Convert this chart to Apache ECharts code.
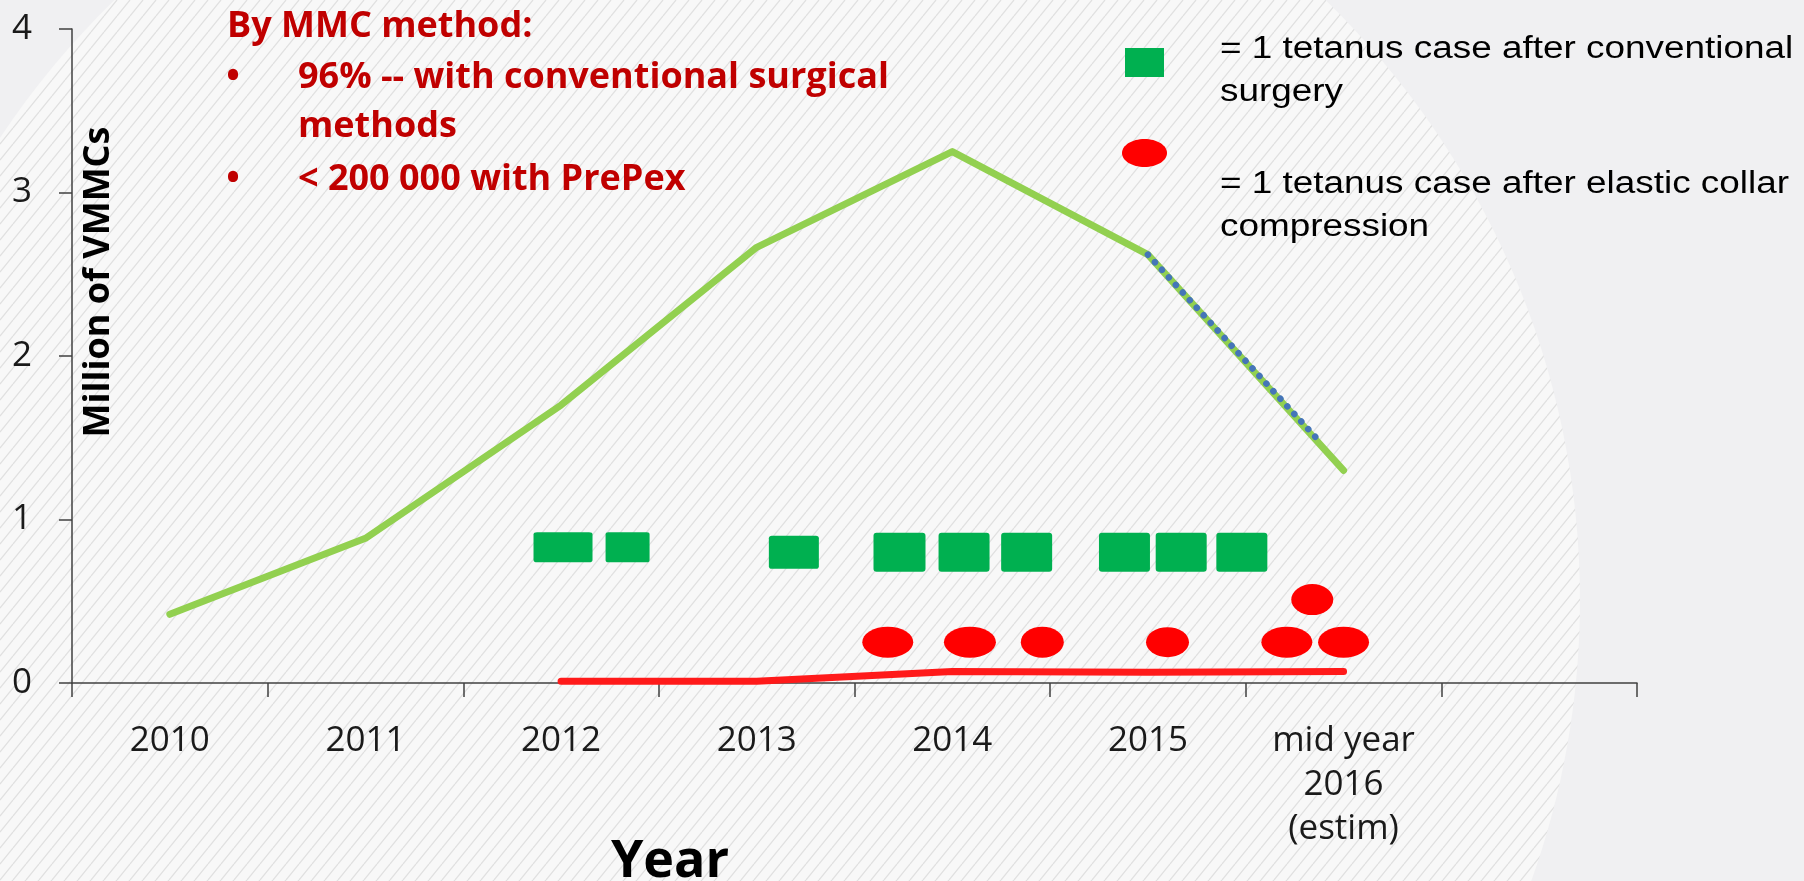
<!DOCTYPE html>
<html>
<head>
<meta charset="utf-8">
<title>VMMCs and tetanus cases</title>
<script src="https://cdn.jsdelivr.net/npm/echarts@6.0.0/dist/echarts.min.js"></script>
<style>
  html, body { margin: 0; padding: 0; background: #f0f0f2; }
  #chart { width: 1804px; height: 881px; }
</style>
</head>
<body>
<div id="chart"></div>
<script>
// categories on the x axis (last one is an empty slot)
const categories = ['2010', '2011', '2012', '2013', '2014', '2015', 'mid year\n2016\n(estim)', ''];

// million of VMMCs per year
const totalVMMC = [0.42, 0.885, 1.70, 2.665, 3.25, 2.62, 1.30, null];
const prepexVMMC = [null, null, 0.01, 0.01, 0.07, 0.065, 0.07, null];

// dotted overlay on the 2015 -> 2016 segment (x in category units)
const dottedX = [5, 5.86];
const dottedY = [2.62, 1.50];

// tetanus cases after conventional surgery (one square each)
const surgeryCaseX = [2.01, 2.34, 3.19, 3.73, 4.06, 4.38, 4.88, 5.17, 5.48];
const surgeryCaseY = [0.83, 0.83, 0.80, 0.80, 0.80, 0.80, 0.80, 0.80, 0.80];

// tetanus cases after elastic collar compression (one dot each)
const collarCaseX = [3.67, 4.09, 4.46, 5.10, 5.71, 6.00, 5.84];
const collarCaseY = [0.25, 0.25, 0.25, 0.25, 0.25, 0.25, 0.51];

// marker sizes (style only)
const surgerySizes = [[59, 30], [44, 30], [50, 33], [52, 39], [51, 39], [51, 39], [51, 39], [51, 39], [51, 39]];
const collarSizes = [[51, 31], [52, 31], [43, 31], [43, 30], [51, 31], [51, 31], [42, 31]];

const RED_TEXT = '#C00000';
const labelFont = '"Open Sans", "DejaVu Sans", sans-serif';
const legendFont = '"Liberation Sans", Arial, sans-serif';
// square with slightly rounded corners
const squareSymbol = 'path://M3,0H47Q50,0 50,3V36Q50,39 47,39H3Q0,39 0,36V3Q0,0 3,0Z';

// striped tile for the background disc
function stripeTile() {
  const w = 13, h = 16;
  const c = document.createElement('canvas');
  c.width = w; c.height = h;
  const ctx = c.getContext('2d');
  ctx.fillStyle = '#f8f8f8';
  ctx.fillRect(0, 0, w, h);
  ctx.strokeStyle = '#e0e0e0';
  ctx.lineWidth = 1.3;
  [-w, 0, w].forEach(function (dx) {
    ctx.beginPath();
    ctx.moveTo(dx, h);
    ctx.lineTo(dx + w, 0);
    ctx.stroke();
  });
  return c;
}

function txt(text, x, y, font, color, align, extra) {
  return Object.assign({
    type: 'text',
    x: x,
    y: y,
    z: 100,
    silent: true,
    style: {
      text: text,
      font: font,
      fill: color,
      align: align || 'left',
      verticalAlign: 'middle',
      textAlign: align || 'left',
      textVerticalAlign: 'middle'
    }
  }, extra || {});
}

const chart = echarts.init(document.getElementById('chart'));

const option = {
  animation: false,
  backgroundColor: '#f0f0f2',
  grid: {
    left: 72,
    right: 167,
    top: 29,
    height: 654,
    containLabel: false,
    outerBoundsMode: 'none'
  },
  xAxis: [
    {
      type: 'category',
      data: categories,
      axisLine: { show: true, lineStyle: { color: '#404040', width: 1.5 } },
      axisTick: { show: true, length: 14, interval: 0, lineStyle: { color: '#404040', width: 1.5 } },
      axisLabel: {
        interval: 0,
        fontFamily: labelFont,
        fontSize: 35,
        lineHeight: 44,
        color: '#1a1a1a',
        margin: 36
      },
      splitLine: { show: false }
    },
    {
      type: 'value',
      min: -0.5,
      max: 7.5,
      show: false
    }
  ],
  yAxis: {
    type: 'value',
    min: 0,
    max: 4,
    interval: 1,
    axisLine: { show: true, onZero: false, lineStyle: { color: '#404040', width: 1.5 } },
    axisTick: { show: true, length: 13, lineStyle: { color: '#404040', width: 1.5 } },
    axisLabel: {
      fontFamily: labelFont,
      fontSize: 35,
      color: '#1a1a1a',
      margin: 40
    },
    splitLine: { show: false }
  },
  series: [
    {
      name: 'All VMMCs',
      type: 'line',
      data: totalVMMC,
      symbol: 'none',
      lineStyle: { color: '#92D050', width: 7, cap: 'round', join: 'round' },
      z: 2
    },
    {
      name: 'Projection',
      type: 'line',
      xAxisIndex: 1,
      data: dottedX.map(function (x, i) { return [x, dottedY[i]]; }),
      symbol: 'none',
      lineStyle: { color: '#4575B8', width: 6.5, type: [0.1, 10.2], cap: 'round' },
      z: 3
    },
    {
      name: 'PrePex',
      type: 'line',
      data: prepexVMMC,
      symbol: 'none',
      lineStyle: { color: '#FF1A1A', width: 7, cap: 'round', join: 'round' },
      z: 2
    },
    {
      name: 'Tetanus after conventional surgery',
      type: 'scatter',
      xAxisIndex: 1,
      data: surgeryCaseX.map(function (x, i) { return [x, surgeryCaseY[i]]; }),
      symbol: squareSymbol,
      symbolKeepAspect: false,
      symbolSize: function (val, p) { return surgerySizes[p.dataIndex]; },
      itemStyle: { color: '#00B050', opacity: 1 },
      emphasis: { disabled: true },
      z: 4
    },
    {
      name: 'Tetanus after elastic collar compression',
      type: 'scatter',
      xAxisIndex: 1,
      data: collarCaseX.map(function (x, i) { return [x, collarCaseY[i]]; }),
      symbol: 'circle',
      symbolSize: function (val, p) { return collarSizes[p.dataIndex]; },
      itemStyle: { color: '#FF0000', opacity: 1 },
      emphasis: { disabled: true },
      z: 4
    }
  ],
  graphic: [
    // slide background: big striped disc
    {
      type: 'ellipse',
      z: -100,
      silent: true,
      shape: { cx: 720, cy: 600, rx: 860, ry: 845 },
      style: { fill: { image: stripeTile(), repeat: 'repeat' } }
    },

    // axis titles
    txt('Million of VMMCs', 99, 282, 'bold 36px ' + labelFont, '#000', 'center', { rotation: Math.PI / 2 }),
    txt('Year', 670, 862, 'bold 52px ' + labelFont, '#000', 'center'),

    // red annotation
    txt('By MMC method:', 227, 27, 'bold 36px ' + labelFont, RED_TEXT),
    txt('\u2022', 233, 78, 'bold 36px ' + labelFont, RED_TEXT, 'center'),
    txt('96% -- with conventional surgical', 298, 78, 'bold 36px ' + labelFont, RED_TEXT),
    txt('methods', 298, 127, 'bold 36px ' + labelFont, RED_TEXT),
    txt('\u2022', 233, 180, 'bold 36px ' + labelFont, RED_TEXT, 'center'),
    txt('< 200 000 with PrePex', 298, 180, 'bold 36px ' + labelFont, RED_TEXT),

    // key
    {
      type: 'rect',
      z: 100,
      silent: true,
      shape: { x: 1125, y: 48, width: 39, height: 29 },
      style: { fill: '#00B050' }
    },
    {
      type: 'ellipse',
      z: 100,
      silent: true,
      shape: { cx: 1144.5, cy: 153, rx: 22.5, ry: 14 },
      style: { fill: '#FF0000' }
    },
    // the key text in the slide is horizontally stretched
    txt('= 1 tetanus case after conventional', 1220, 49, '31px ' + legendFont, '#000', 'left', { scaleX: 1.19 }),
    txt('surgery', 1220, 92, '31px ' + legendFont, '#000', 'left', { scaleX: 1.19 }),
    txt('= 1 tetanus case after elastic collar', 1220, 184, '31px ' + legendFont, '#000', 'left', { scaleX: 1.19 }),
    txt('compression', 1220, 227, '31px ' + legendFont, '#000', 'left', { scaleX: 1.19 })
  ]
};

chart.setOption(option);
</script>
</body>
</html>
